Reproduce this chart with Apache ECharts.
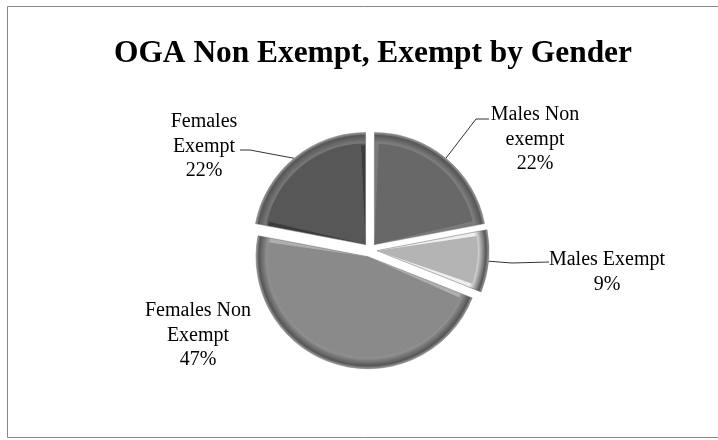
<!DOCTYPE html>
<html>
<head>
<meta charset="utf-8">
<style>html,body{margin:0;background:#fff}#main{width:718px;height:440px}</style>
<script src="https://cdn.jsdelivr.net/npm/echarts@6/dist/echarts.min.js"></script>
</head>
<body>
<div id="main"></div>
<script>
const titleText = 'OGA Non Exempt, Exempt by Gender';
const sliceNames = ['Males Non\nexempt', 'Males Exempt', 'Females Non\nExempt', 'Females\nExempt'];
const sliceValues = [22, 9, 47, 22];
const sliceColors = ['#686868', '#b4b4b4', '#8a8a8a', '#575757'];
const rimColors = ['#7e7e7e', '#c8c8c8', '#8c8c8c', '#787878'];
const bevelColors = ['#7a7a7a', '#efefef', '#afafaf', '#3c3c3c'];
// label centres and leader elbows
const labelSpots = [[535, 139.5], [607, 272], [198, 335.5], [204, 146.5]];
const leaderEnds = [
    [[476, 119], [489, 119]],
    [[512, 263], [549, 262]],
    null,
    [[250, 150], [240, 150]]
];

const myChart = echarts.init(document.getElementById('main'));
const cx = 370, cy = 250, outer = 112, explode = 7;
const total = sliceValues.reduce((a, b) => a + b, 0);

function rim(i) {
    return new echarts.graphic.RadialGradient(cx, cy, outer, [
        { offset: 0, color: bevelColors[i] },
        { offset: 0.88, color: bevelColors[i] },
        { offset: 0.91, color: rimColors[i] },
        { offset: 0.975, color: '#565656' },
        { offset: 1, color: '#a0a0a0' }
    ], true);
}

// labels sit where the picture has them, so they are placed by hand
const labelTexts = sliceNames.map((name, i) => ({
    type: 'text',
    silent: true,
    x: labelSpots[i][0],
    y: labelSpots[i][1],
    style: {
        text: name + '\n' + Math.round(sliceValues[i] / total * 100) + '%',
        font: '20px "Liberation Serif"',
        lineHeight: 24.5,
        fill: '#000',
        align: 'center',
        verticalAlign: 'middle'
    }
}));

let before = 0;
const leaders = [];
sliceValues.forEach((v, i) => {
    const mid = (before + v / 2) / total * Math.PI * 2;
    before += v;
    if (!leaderEnds[i]) return;
    const start = [cx + Math.sin(mid) * (outer + explode), cy - Math.cos(mid) * (outer + explode)];
    leaders.push({
        type: 'polyline',
        silent: true,
        shape: { points: [start, leaderEnds[i][0], leaderEnds[i][1]] },
        style: { fill: 'none', stroke: '#333', lineWidth: 1 }
    });
});

const option = {
    animation: false,
    title: {
        text: titleText,
        left: 368,
        top: 33,
        textAlign: 'center',
        textStyle: { fontFamily: 'Liberation Serif', fontSize: 31.4, fontWeight: 'bold', color: '#000' }
    },
    graphic: [{
        type: 'rect',
        silent: true,
        shape: { x: 7.5, y: 6.5, width: 720, height: 431 },
        style: { fill: 'none', stroke: '#888', lineWidth: 1 }
    }].concat(leaders, labelTexts),
    series: [{
        type: 'pie',
        name: 'bevel',
        center: [cx, cy],
        radius: [0, outer],
        startAngle: 90,
        selectedMode: 'multiple',
        selectedOffset: explode,
        label: { show: false },
        labelLine: { show: false },
        data: sliceNames.map((name, i) => ({
            name: name,
            value: sliceValues[i],
            selected: true,
            itemStyle: { color: rim(i), borderColor: '#666', borderWidth: 0.5 }
        }))
    }, {
        type: 'pie',
        name: 'face',
        silent: true,
        center: [cx, cy],
        radius: [0, outer - 11],
        startAngle: 90,
        padAngle: 5,
        selectedMode: 'multiple',
        selectedOffset: explode,
        label: { show: false },
        labelLine: { show: false },
        data: sliceNames.map((name, i) => ({
            name: name,
            value: sliceValues[i],
            selected: true,
            itemStyle: { color: sliceColors[i] }
        }))
    }]
};
myChart.setOption(option);
</script>
</body>
</html>
